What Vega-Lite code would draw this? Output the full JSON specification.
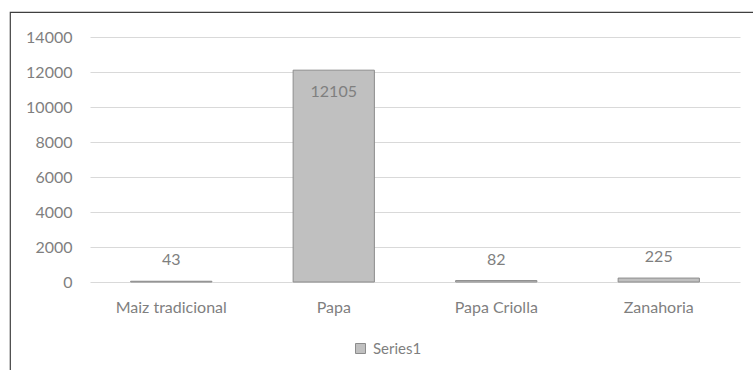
{
  "$schema": "https://vega.github.io/schema/vega-lite/v6.json",
  "width": 743,
  "height": 358,
  "autosize": {"type": "none"},
  "padding": {"left": 10, "top": 12, "right": 0, "bottom": 0},
  "background": "white",
  "config": {
    "font": "Lato",
    "view": {"stroke": "#3f3f3f", "strokeWidth": 1.2, "strokeDash": [743, 1101, 358, 2]}
  },
  "data": {
    "values": [
      {"cultivo": "Maiz tradicional", "valor": 43, "serie": "Series1"},
      {"cultivo": "Papa", "valor": 12105, "serie": "Series1"},
      {"cultivo": "Papa Criolla", "valor": 82, "serie": "Series1"},
      {"cultivo": "Zanahoria", "valor": 225, "serie": "Series1"}
    ]
  },
  "encoding": {
    "x": {
      "field": "cultivo",
      "type": "nominal",
      "sort": null,
      "scale": {"range": [80, 730], "paddingInner": 0.5, "paddingOuter": 0.25},
      "axis": {
        "title": null,
        "labelAngle": 0,
        "domain": false,
        "ticks": false,
        "offset": -88,
        "labelPadding": 17,
        "labelFont": "Lato",
        "labelFontSize": 16,
        "labelColor": "#7f7f7f"
      }
    },
    "y": {
      "field": "valor",
      "type": "quantitative",
      "scale": {"domain": [0, 14000], "range": [270, 25], "nice": false},
      "axis": {
        "title": null,
        "values": [0, 2000, 4000, 6000, 8000, 10000, 12000, 14000],
        "format": "d",
        "domain": false,
        "ticks": false,
        "offset": -70,
        "labelPadding": 8,
        "labelFont": "Lato",
        "labelFontSize": 16,
        "labelColor": "#7f7f7f",
        "gridColor": "#d9d9d9",
        "gridWidth": 1.2
      }
    }
  },
  "layer": [
    {
      "mark": {"type": "bar", "stroke": "#8c8c8c", "strokeWidth": 1},
      "encoding": {
        "color": {
          "field": "serie",
          "type": "nominal",
          "scale": {"range": ["#c0c0c0"]},
          "legend": {
            "title": null,
            "orient": "none",
            "legendX": 343,
            "legendY": 329,
            "symbolType": "square",
            "symbolSize": 100,
            "symbolStrokeColor": "#8c8c8c",
            "symbolStrokeWidth": 1,
            "labelFont": "Lato",
            "labelFontSize": 15,
            "labelColor": "#7f7f7f",
            "labelOffset": 5
          }
        }
      }
    },
    {
      "transform": [{"filter": "datum.valor < 10000"}],
      "mark": {"type": "text", "font": "Lato", "fontSize": 16, "color": "#7f7f7f", "baseline": "middle", "dy": -21},
      "encoding": {
        "text": {"field": "valor", "type": "quantitative", "format": "d"}
      }
    },
    {
      "transform": [{"filter": "datum.valor >= 10000"}],
      "mark": {"type": "text", "font": "Lato", "fontSize": 16, "color": "#7f7f7f", "baseline": "middle", "dy": 22},
      "encoding": {
        "text": {"field": "valor", "type": "quantitative", "format": "d"}
      }
    }
  ]
}
